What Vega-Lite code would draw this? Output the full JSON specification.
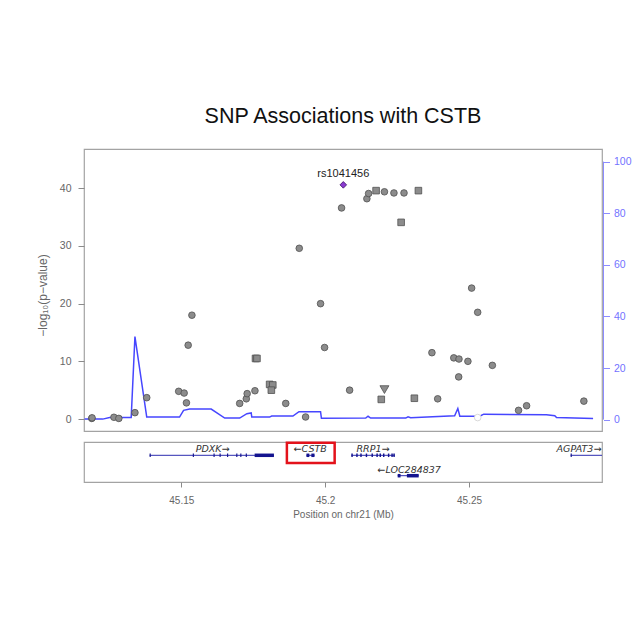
{
  "$schema": "https://vega.github.io/schema/vega-lite/v6.json",
  "padding": {"left": 35, "top": 104, "right": 0, "bottom": 0},
  "background": "white",
  "spacing": 8,
  "config": {
    "font": "Liberation Sans",
    "view": {"stroke": "#a3a3a3", "strokeWidth": 1.2},
    "axis": {"grid": false}
  },
  "datasets": {
    "snps": [
      {"pos": 45.1189, "logp": 0.1, "marker": "circle", "grp": "ld"},
      {"pos": 45.1190, "logp": 0.2, "marker": "circle", "grp": "ld"},
      {"pos": 45.1266, "logp": 0.3, "marker": "circle", "grp": "ld"},
      {"pos": 45.1283, "logp": 0.1, "marker": "circle", "grp": "ld"},
      {"pos": 45.1339, "logp": 1.1, "marker": "circle", "grp": "ld"},
      {"pos": 45.1380, "logp": 3.7, "marker": "circle", "grp": "ld"},
      {"pos": 45.1491, "logp": 4.8, "marker": "circle", "grp": "ld"},
      {"pos": 45.1510, "logp": 4.5, "marker": "circle", "grp": "ld"},
      {"pos": 45.1518, "logp": 2.8, "marker": "circle", "grp": "ld"},
      {"pos": 45.1524, "logp": 12.8, "marker": "circle", "grp": "ld"},
      {"pos": 45.1537, "logp": 18.0, "marker": "circle", "grp": "ld"},
      {"pos": 45.1703, "logp": 2.7, "marker": "circle", "grp": "ld"},
      {"pos": 45.1726, "logp": 3.5, "marker": "circle", "grp": "ld"},
      {"pos": 45.1729, "logp": 4.4, "marker": "circle", "grp": "ld"},
      {"pos": 45.1756, "logp": 4.9, "marker": "circle", "grp": "ld"},
      {"pos": 45.1758, "logp": 10.5, "marker": "square", "grp": "ld"},
      {"pos": 45.1763, "logp": 10.5, "marker": "square", "grp": "ld"},
      {"pos": 45.1807, "logp": 6.0, "marker": "square", "grp": "ld"},
      {"pos": 45.1818, "logp": 5.9, "marker": "square", "grp": "ld"},
      {"pos": 45.1813, "logp": 5.0, "marker": "square", "grp": "ld"},
      {"pos": 45.1863, "logp": 2.7, "marker": "circle", "grp": "ld"},
      {"pos": 45.1910, "logp": 29.6, "marker": "circle", "grp": "ld"},
      {"pos": 45.1932, "logp": 0.35, "marker": "circle", "grp": "ld"},
      {"pos": 45.1984, "logp": 20.0, "marker": "circle", "grp": "ld"},
      {"pos": 45.1998, "logp": 12.4, "marker": "circle", "grp": "ld"},
      {"pos": 45.2057, "logp": 36.6, "marker": "circle", "grp": "ld"},
      {"pos": 45.2085, "logp": 5.0, "marker": "circle", "grp": "ld"},
      {"pos": 45.2145, "logp": 38.2, "marker": "circle", "grp": "ld"},
      {"pos": 45.2151, "logp": 39.1, "marker": "circle", "grp": "ld"},
      {"pos": 45.2177, "logp": 39.6, "marker": "square", "grp": "ld"},
      {"pos": 45.2206, "logp": 39.4, "marker": "circle", "grp": "ld"},
      {"pos": 45.2239, "logp": 39.2, "marker": "circle", "grp": "ld"},
      {"pos": 45.2274, "logp": 39.2, "marker": "circle", "grp": "ld"},
      {"pos": 45.2324, "logp": 39.6, "marker": "square", "grp": "ld"},
      {"pos": 45.2264, "logp": 34.1, "marker": "square", "grp": "ld"},
      {"pos": 45.2206, "logp": 5.1, "marker": "triangle-down", "grp": "ld"},
      {"pos": 45.2195, "logp": 3.4, "marker": "square", "grp": "ld"},
      {"pos": 45.2310, "logp": 3.6, "marker": "square", "grp": "ld"},
      {"pos": 45.2371, "logp": 11.5, "marker": "circle", "grp": "ld"},
      {"pos": 45.2391, "logp": 3.5, "marker": "circle", "grp": "ld"},
      {"pos": 45.2447, "logp": 10.6, "marker": "circle", "grp": "ld"},
      {"pos": 45.2465, "logp": 10.4, "marker": "circle", "grp": "ld"},
      {"pos": 45.2464, "logp": 7.3, "marker": "circle", "grp": "ld"},
      {"pos": 45.2496, "logp": 10.0, "marker": "circle", "grp": "ld"},
      {"pos": 45.2509, "logp": 22.7, "marker": "circle", "grp": "ld"},
      {"pos": 45.2530, "logp": 18.5, "marker": "circle", "grp": "ld"},
      {"pos": 45.2581, "logp": 9.3, "marker": "circle", "grp": "ld"},
      {"pos": 45.2530, "logp": 0.25, "marker": "circle", "grp": "low"},
      {"pos": 45.2672, "logp": 1.5, "marker": "circle", "grp": "ld"},
      {"pos": 45.2700, "logp": 2.3, "marker": "circle", "grp": "ld"},
      {"pos": 45.2899, "logp": 3.1, "marker": "circle", "grp": "ld"},
      {"pos": 45.2063, "logp": 40.6, "marker": "diamond", "grp": "index", "snp": "rs1041456"}
    ],
    "recomb": [
      {"pos": 45.1164, "rate": 0.2},
      {"pos": 45.1227, "rate": 0.2},
      {"pos": 45.1251, "rate": 0.8},
      {"pos": 45.1326, "rate": 0.8},
      {"pos": 45.1339, "rate": 32.2},
      {"pos": 45.1380, "rate": 1.0},
      {"pos": 45.1494, "rate": 1.0},
      {"pos": 45.1508, "rate": 3.6},
      {"pos": 45.1529, "rate": 4.1},
      {"pos": 45.1604, "rate": 4.1},
      {"pos": 45.1651, "rate": 0.6},
      {"pos": 45.1703, "rate": 0.6},
      {"pos": 45.1728, "rate": 2.3},
      {"pos": 45.1743, "rate": 2.6},
      {"pos": 45.1745, "rate": 1.0},
      {"pos": 45.1807, "rate": 1.0},
      {"pos": 45.1814, "rate": 1.4},
      {"pos": 45.1888, "rate": 1.4},
      {"pos": 45.1909, "rate": 3.1},
      {"pos": 45.1984, "rate": 3.1},
      {"pos": 45.1987, "rate": 0.5},
      {"pos": 45.2141, "rate": 0.6},
      {"pos": 45.2149, "rate": 1.3},
      {"pos": 45.2158, "rate": 0.6},
      {"pos": 45.2280, "rate": 0.6},
      {"pos": 45.2288, "rate": 1.1},
      {"pos": 45.2297, "rate": 0.7},
      {"pos": 45.2450, "rate": 1.5},
      {"pos": 45.2461, "rate": 4.3},
      {"pos": 45.2468, "rate": 1.3},
      {"pos": 45.2537, "rate": 1.3},
      {"pos": 45.2551, "rate": 2.1},
      {"pos": 45.2769, "rate": 1.9},
      {"pos": 45.2798, "rate": 1.5},
      {"pos": 45.2804, "rate": 0.8},
      {"pos": 45.2931, "rate": 0.4}
    ],
    "genes": [
      {"gene": "PDXK", "label": "PDXK→", "track": 1, "start": 45.1390, "end": 45.1822, "mid": 45.1609},
      {"gene": "CSTB", "label": "←CSTB", "track": 1, "start": 45.1935, "end": 45.1963, "mid": 45.1948},
      {"gene": "RRP1", "label": "RRP1→", "track": 1, "start": 45.2091, "end": 45.2242, "mid": 45.2166},
      {"gene": "LOC284837", "label": "←LOC284837", "track": 2, "start": 45.2252, "end": 45.2325, "mid": 45.2292},
      {"gene": "AGPAT3", "label": "AGPAT3→", "track": 1, "start": 45.2853, "end": 45.3200, "mid": 45.2882}
    ],
    "exons": [
      {"gene": "PDXK", "track": 1, "start": 45.1390, "end": 45.1394},
      {"gene": "PDXK", "track": 1, "start": 45.1540, "end": 45.1544},
      {"gene": "PDXK", "track": 1, "start": 45.1612, "end": 45.1616},
      {"gene": "PDXK", "track": 1, "start": 45.1633, "end": 45.1637},
      {"gene": "PDXK", "track": 1, "start": 45.1659, "end": 45.1663},
      {"gene": "PDXK", "track": 1, "start": 45.1691, "end": 45.1695},
      {"gene": "PDXK", "track": 1, "start": 45.1705, "end": 45.1709},
      {"gene": "PDXK", "track": 1, "start": 45.1724, "end": 45.1728},
      {"gene": "PDXK", "track": 1, "start": 45.1755, "end": 45.1822},
      {"gene": "CSTB", "track": 1, "start": 45.1935, "end": 45.1945},
      {"gene": "CSTB", "track": 1, "start": 45.1952, "end": 45.1963},
      {"gene": "RRP1", "track": 1, "start": 45.2091, "end": 45.2096},
      {"gene": "RRP1", "track": 1, "start": 45.2108, "end": 45.2113},
      {"gene": "RRP1", "track": 1, "start": 45.2122, "end": 45.2127},
      {"gene": "RRP1", "track": 1, "start": 45.2141, "end": 45.2146},
      {"gene": "RRP1", "track": 1, "start": 45.2161, "end": 45.2166},
      {"gene": "RRP1", "track": 1, "start": 45.2178, "end": 45.2183},
      {"gene": "RRP1", "track": 1, "start": 45.2189, "end": 45.2194},
      {"gene": "RRP1", "track": 1, "start": 45.2201, "end": 45.2206},
      {"gene": "RRP1", "track": 1, "start": 45.2218, "end": 45.2223},
      {"gene": "RRP1", "track": 1, "start": 45.2230, "end": 45.2235},
      {"gene": "RRP1", "track": 1, "start": 45.2237, "end": 45.2242},
      {"gene": "LOC284837", "track": 2, "start": 45.2252, "end": 45.2262},
      {"gene": "LOC284837", "track": 2, "start": 45.2284, "end": 45.2325},
      {"gene": "AGPAT3", "track": 1, "start": 45.2853, "end": 45.2857}
    ],
    "highlight": [
      {"gene": "CSTB", "x1": 45.1867, "x2": 45.2033, "t1": 0.382, "t2": 1.377}
    ],
    "recombAxis": [
      {"lo": 0, "hi": 100}
    ]
  },
  "vconcat": [
    {
      "title": {
        "text": "SNP Associations with CSTB",
        "fontSize": 21.5,
        "fontWeight": "normal",
        "color": "#111111",
        "anchor": "middle",
        "frame": "group",
        "baseline": "alphabetic",
        "offset": 5
      },
      "width": 518,
      "height": 282,
      "layer": [
        {
          "layer": [
            {
              "data": {"name": "recomb"},
              "mark": {"type": "line", "color": "#4646ff", "strokeWidth": 1.5, "clip": true},
              "encoding": {
                "x": {"field": "pos", "type": "quantitative", "scale": {"domain": [45.1162, 45.2962], "nice": false, "zero": false}, "axis": null},
                "y": {
                  "field": "rate", "type": "quantitative",
                  "scale": {"domain": [-4.41, 104.9], "nice": false, "zero": false},
                  "axis": {
                    "orient": "right", "title": null, "values": [0, 20, 40, 60, 80, 100],
                    "domain": false, "offset": 1.5, "tickSize": 6, "tickColor": "#8c8cff",
                    "labelColor": "#7373ff", "labelFontSize": 10.5, "labelPadding": 4
                  }
                }
              }
            },
            {
              "data": {"name": "recombAxis"},
              "mark": {"type": "rule", "color": "#8c8cff", "strokeWidth": 1, "xOffset": 1.5},
              "encoding": {
                "x": {"datum": 45.2962, "type": "quantitative"},
                "y": {"field": "lo", "type": "quantitative"},
                "y2": {"field": "hi"}
              }
            }
          ]
        },
        {
          "data": {"name": "snps"},
          "layer": [
            {
              "transform": [{"filter": "datum.marker != 'triangle-down'"}],
              "mark": {"type": "point", "filled": true, "size": 44, "strokeWidth": 0.8, "opacity": 1},
              "encoding": {
                "x": {"field": "pos", "type": "quantitative"},
                "y": {
                  "field": "logp", "type": "quantitative",
                  "scale": {"domain": [-2.08, 46.82], "nice": false, "zero": false},
                  "axis": {
                    "orient": "left", "title": "−log₁₀(p−value)", "values": [0, 10, 20, 30, 40],
                    "domain": false, "tickSize": 6, "tickColor": "#8a8a8a",
                    "labelColor": "#666666", "labelFontSize": 10.5, "labelPadding": 7,
                    "titleFontSize": 12, "titleFontWeight": "normal", "titleColor": "#666666", "titlePadding": 10,
                    "titleY": 146
                  }
                },
                "shape": {"field": "marker", "type": "nominal", "scale": {"domain": ["circle", "square", "triangle-down", "diamond"], "range": ["circle", "square", "triangle-down", "diamond"]}, "legend": null},
                "fill": {"field": "grp", "type": "nominal", "scale": {"domain": ["ld", "index", "low"], "range": ["#8c8c8c", "#8a3ad0", "#ffffff"]}, "legend": null},
                "stroke": {"field": "grp", "type": "nominal", "scale": {"domain": ["ld", "index", "low"], "range": ["#505050", "#3d1466", "#cfcfcf"]}, "legend": null}
              }
            },
            {
              "transform": [{"filter": "datum.marker == 'triangle-down'"}],
              "mark": {"type": "point", "filled": true, "size": 80, "strokeWidth": 0.8, "opacity": 1, "fill": "#8c8c8c", "stroke": "#505050", "shape": "triangle-down"},
              "encoding": {
                "x": {"field": "pos", "type": "quantitative"},
                "y": {"field": "logp", "type": "quantitative"}
              }
            },
            {
              "transform": [{"filter": "datum.grp == 'index'"}],
              "mark": {"type": "text", "dy": -10.5, "fontSize": 11, "color": "#222222"},
              "encoding": {
                "x": {"field": "pos", "type": "quantitative"},
                "y": {"field": "logp", "type": "quantitative"},
                "text": {"field": "snp"}
              }
            }
          ]
        }
      ],
      "resolve": {"scale": {"y": "independent"}}
    },
    {
      "width": 518,
      "height": 40,
      "layer": [
        {
          "data": {"name": "genes"},
          "mark": {"type": "rule", "color": "#2c2cb0", "strokeWidth": 1, "clip": true},
          "encoding": {
            "x": {
              "field": "start", "type": "quantitative",
              "scale": {"domain": [45.1162, 45.2962], "nice": false, "zero": false},
              "axis": {
                "title": "Position on chr21 (Mb)", "values": [45.15, 45.2, 45.25], "format": ".2~f",
                "domain": false, "tickSize": 5, "tickColor": "#8a8a8a",
                "labelColor": "#666666", "labelFontSize": 10, "labelPadding": 8,
                "titleFontSize": 10, "titleFontWeight": "normal", "titleColor": "#666666", "titlePadding": 4
              }
            },
            "x2": {"field": "end"},
            "y": {"field": "track", "type": "quantitative", "scale": {"domain": [0.348, 2.309], "reverse": true, "nice": false, "zero": false}, "axis": null}
          }
        },
        {
          "data": {"name": "exons"},
          "mark": {"type": "rule", "color": "#14148f", "strokeWidth": 3.5, "clip": true},
          "encoding": {
            "x": {"field": "start", "type": "quantitative"},
            "x2": {"field": "end"},
            "y": {"field": "track", "type": "quantitative"}
          }
        },
        {
          "data": {"name": "genes"},
          "mark": {"type": "text", "font": "DejaVu Sans", "fontStyle": "italic", "fontSize": 9.5, "dy": -6, "color": "#333333"},
          "encoding": {
            "x": {"field": "mid", "type": "quantitative"},
            "y": {"field": "track", "type": "quantitative"},
            "text": {"field": "label"}
          }
        },
        {
          "data": {"name": "highlight"},
          "mark": {"type": "rect", "fill": null, "fillOpacity": 0, "stroke": "#e3121b", "strokeWidth": 2.5},
          "encoding": {
            "x": {"field": "x1", "type": "quantitative"},
            "x2": {"field": "x2"},
            "y": {"field": "t1", "type": "quantitative"},
            "y2": {"field": "t2"}
          }
        }
      ]
    }
  ]
}
